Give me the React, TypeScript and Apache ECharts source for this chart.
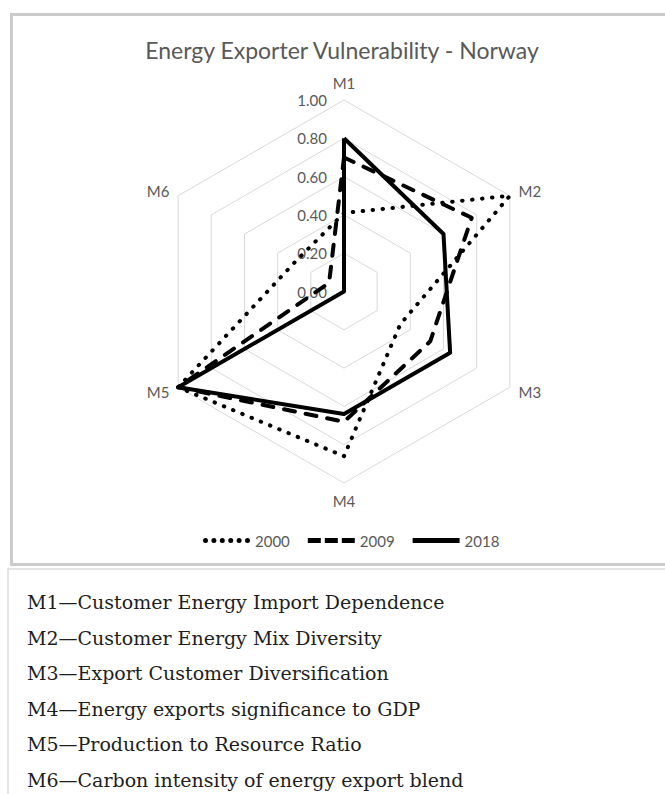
import React, { useEffect, useRef } from 'react';
import * as echarts from 'echarts';

const categories = ['M1', 'M2', 'M3', 'M4', 'M5', 'M6'];
const years = ['2000', '2009', '2018'];
const values2000 = [0.41, 1.0, 0.34, 0.86, 1.0, 0.3];
const values2009 = [0.7, 0.77, 0.52, 0.68, 1.0, 0.09];
const values2018 = [0.8, 0.6, 0.64, 0.64, 1.0, 0.0];
const axisMin = 0;
const axisMax = 1;
const axisSplits = 5;
const descriptions = [
  'M1\u2014Customer Energy Import Dependence',
  'M2\u2014Customer Energy Mix Diversity',
  'M3\u2014Export Customer Diversification',
  'M4\u2014Energy exports significance to GDP',
  'M5\u2014Production to Resource Ratio',
  'M6\u2014Carbon intensity of energy export blend',
];

const seriesValues = [values2000, values2009, values2018];

// Excel places the axes clockwise; ECharts goes counter-clockwise.
const order = [0, 5, 4, 3, 2, 1];

const GRAY = '#595959';
const FONT = 'Lato, "Open Sans", sans-serif';

function dotsIcon() {
  let d = '';
  const r = 2.5;
  for (let i = 0; i < 6; i++) {
    const cx = r + i * 8.4;
    d += `M${cx - r},${r} a${r},${r} 0 1,0 ${2 * r},0 a${r},${r} 0 1,0 ${-2 * r},0 Z `;
  }
  return 'path://' + d;
}
const dashIcon = 'path://M0,0 L13,0 L13,5 L0,5 Z M17,0 L30,0 L30,5 L17,5 Z M34,0 L47,0 L47,5 L34,5 Z';
const solidIcon = 'path://M0,0 L47,0 L47,5 L0,5 Z';
const icons = [dotsIcon(), dashIcon, solidIcon];

const lineTypes: any[] = [
  { type: [0.5, 9.5], cap: 'round' },
  { type: [11, 11], cap: 'round' },
  { type: 'solid', cap: 'butt' },
];

export default function App() {
  const ref = useRef<HTMLDivElement>(null);
  useEffect(() => {
    document.body.style.margin = '0';
    const chart = echarts.init(ref.current!, null, { renderer: 'svg' });
    const option: any = {
      animation: false,
      backgroundColor: 'transparent',
      title: {
        text: 'Energy Exporter Vulnerability - Norway',
        left: 337,
        textAlign: 'center',
        top: 33,
        textStyle: { color: GRAY, fontSize: 23, fontWeight: 'normal', fontFamily: FONT },
      },
      legend: {
        data: years.map((y, i) => ({ name: y, icon: icons[i] })),
        left: 198,
        top: 528,
        itemWidth: 47,
        itemHeight: 5,
        itemGap: 18,
        selectedMode: false,
        textStyle: { color: GRAY, fontSize: 15, fontFamily: FONT },
      },
      radar: {
        center: [344, 291.5],
        radius: 191.5,
        startAngle: 90,
        splitNumber: axisSplits,
        shape: 'polygon',
        nameGap: 10,
        axisName: { color: GRAY, fontSize: 15, fontFamily: FONT },
        axisLine: { show: false },
        axisTick: { show: false },
        axisLabel: { show: false },
        splitLine: { lineStyle: { color: '#d9d9d9', width: 1 } },
        splitArea: { show: false },
        indicator: order.map((idx, k) => {
          const ind: any = { name: categories[idx], min: axisMin, max: axisMax };
          if (k === 0) {
            ind.axisLabel = {
              show: true,
              color: GRAY,
              fontSize: 15,
              fontFamily: FONT,
              margin: 17,
              formatter: (v: number) => v.toFixed(2),
            };
          }
          return ind;
        }),
      },
      series: years.map((y, i) => ({
        type: 'radar',
        name: y,
        symbol: 'none',
        z: 2 + i,
        itemStyle: { color: '#000' },
        lineStyle: { color: '#000', width: 4, join: 'round', ...lineTypes[i] },
        data: [{ name: y, value: order.map((idx) => seriesValues[i][idx]) }],
      })),
    };
    chart.setOption(option);
    return () => chart.dispose();
  }, []);

  return (
    <div style={{ position: 'relative', width: 665, height: 794, overflow: 'hidden', background: '#fff' }}>
      <div
        style={{
          position: 'absolute',
          left: 10,
          top: 13,
          width: 680,
          height: 547,
          border: '3px solid #cbcbcb',
        }}
      />
      <div
        style={{
          position: 'absolute',
          left: 7,
          top: 568,
          width: 700,
          height: 260,
          borderLeft: '2px solid #e4e4e4',
          borderTop: '2px solid #e4e4e4',
        }}
      />
      <div ref={ref} style={{ position: 'absolute', left: 0, top: 0, width: 665, height: 566 }} />
      {descriptions.map((t, i) => (
        <div
          key={i}
          style={{
            position: 'absolute',
            left: 27,
            top: 602 + i * 35.6 - 18,
            height: 36,
            lineHeight: '36px',
            fontFamily: '"DejaVu Serif", serif',
            fontSize: 19,
            color: '#1e1e1e',
            whiteSpace: 'nowrap',
          }}
        >
          {t}
        </div>
      ))}
    </div>
  );
}
